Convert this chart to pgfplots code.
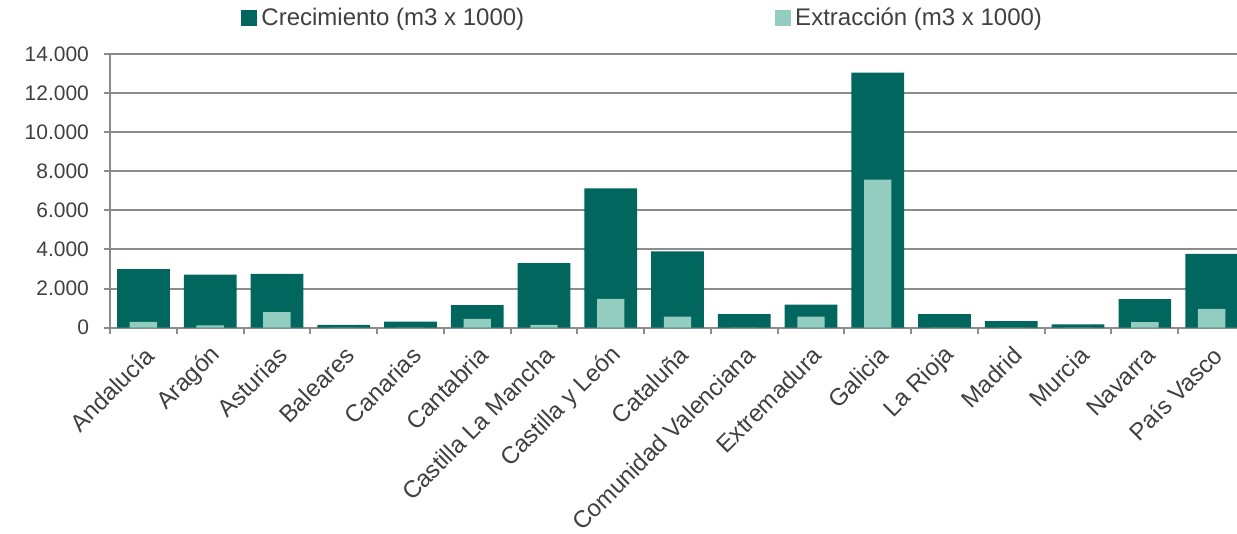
\documentclass[border=0pt]{standalone}
\usepackage{fontspec}
\setmainfont{Liberation Sans}
\usepackage{pgfplots}
\usepackage{pgfplotstable}
\pgfplotsset{compat=1.18}

\definecolor{crec}{RGB}{0,102,94}
\definecolor{extr}{RGB}{147,205,191}
\definecolor{rejilla}{RGB}{140,140,140}
\definecolor{texto}{RGB}{64,64,64}

% miles de m3: crecimiento y extraccion por comunidad
\pgfplotstableread{
idx crec extr
0 3000 300
1 2720 120
2 2750 800
3 150 0
4 310 0
5 1160 450
6 3300 150
7 7130 1470
8 3900 560
9 690 0
10 1180 560
11 13050 7570
12 690 0
13 340 0
14 170 0
15 1460 290
16 3780 960
}\datos

\begin{document}
\begin{tikzpicture}
\begin{axis}[
    scale only axis,
    width=563.5pt, height=136.85pt,
    xmin=-0.5, xmax=16.38,
    ymin=0, ymax=14000,
    ybar, bar shift=0pt,
    axis x line*=bottom, axis y line*=left,
    axis line style={rejilla, line width=1pt},
    tick align=outside,
    xtick={0,...,16},
    xticklabels={Andalucía, Aragón, Asturias, Baleares, Canarias, Cantabria,
        Castilla La Mancha, Castilla y León, Cataluña, Comunidad Valenciana,
        Extremadura, Galicia, La Rioja, Madrid, Murcia, Navarra, País Vasco},
    major x tick style={draw=none},
    minor xtick={-0.5,0.5,...,16.5},
    minor tick length=3pt,
    major tick length=3pt,
    tick style={rejilla, line width=1pt},
    xticklabel style={rotate=45, anchor=east, yshift=-8.5pt, xshift=-0.5pt,
        font=\fontsize{12}{14}\selectfont, text=texto},
    ytick={0,2000,...,14000},
    scaled y ticks=false,
    /pgf/number format/1000 sep={.},
    /pgf/number format/assume math mode=true,
    yticklabel style={font=\fontsize{10.5}{12}\selectfont, text=texto, xshift=-4pt},
    ymajorgrids,
    grid style={rejilla, line width=1pt},
    legend columns=2,
    legend style={at={(0.111,1.1315)}, anchor=west, draw=none, fill=none,
        font=\fontsize{12}{14}\selectfont, text=texto,
        /tikz/column 2/.style={column sep=123.5pt}},
    legend image code/.code={\fill[#1, draw=none] (0pt,-4pt) rectangle (8pt,4pt);},
]
\addplot[fill=crec, draw=none, bar width=0.79] table[x=idx, y=crec]{\datos};
\addlegendentry{Crecimiento (m3 x 1000)}
\addplot[fill=extr, draw=none, bar width=0.41] table[x=idx, y=extr]{\datos};
\addlegendentry{Extracción (m3 x 1000)}
\end{axis}
\pgfresetboundingbox
\path[use as bounding box] ([shift={(-55pt,-103.15pt)}]current axis.south west)
    rectangle ([shift={(0pt,27pt)}]current axis.north east);
\end{tikzpicture}
\end{document}
